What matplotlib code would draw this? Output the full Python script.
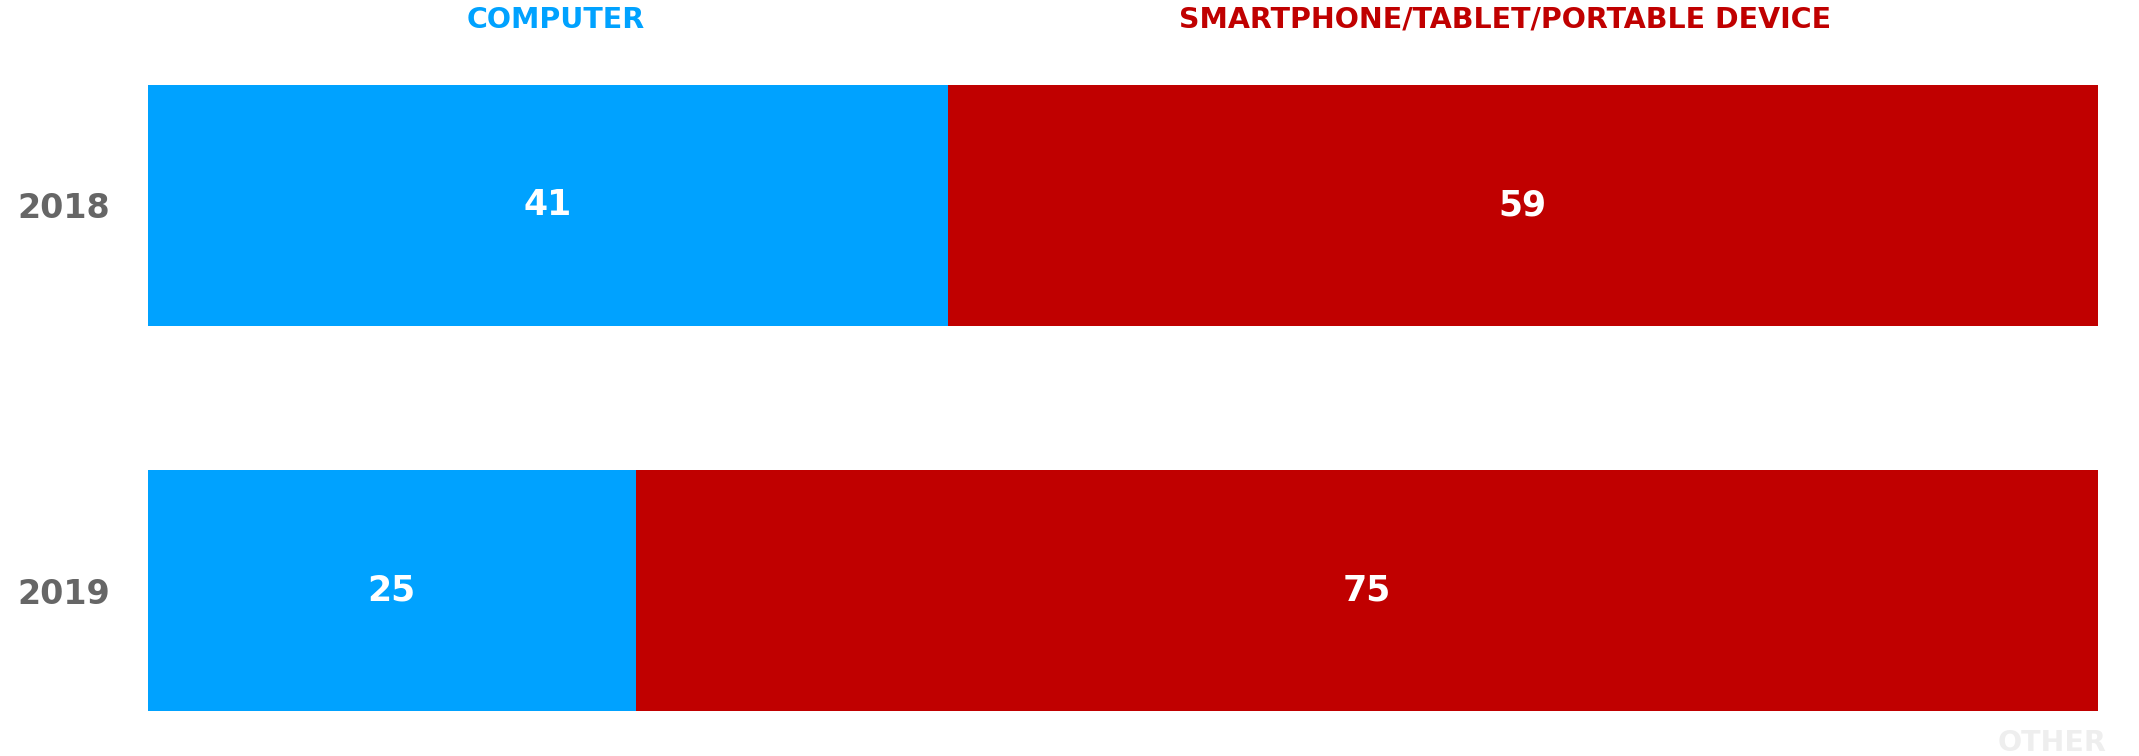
import matplotlib
matplotlib.use("Agg")
import matplotlib.pyplot as plt
import matplotlib.transforms as mtransforms

years = ["2018", "2019"]
categories = ["COMPUTER", "SMARTPHONE/TABLET/PORTABLE DEVICE", "OTHER"]
computer = [41, 25]
smartphone = [59, 75]
other = [0, 0]
colors = ["#00A2FF", "#C00000", "#EEEEEE"]

plt.rcParams["font.family"] = ["DejaVu Sans"]

fig = plt.figure(figsize=(21.39, 7.56), dpi=100)
ax = fig.add_axes([148 / 2139, 1 - 711 / 756, (2098 - 148) / 2139, (711 - 85) / 756])

series = [computer, smartphone, other]
ypos = list(range(len(years)))
left = [0] * len(years)
for vals, col in zip(series, colors):
    ax.barh(ypos, vals, left=left, height=0.625, color=col, edgecolor="none")
    for y, v, l in zip(ypos, vals, left):
        if v > 0:
            ax.text(l + v / 2, y, str(v), ha="center", va="center",
                    color="white", fontsize=25, fontweight="bold")
    left = [a + b for a, b in zip(left, vals)]

ax.set_xlim(0, 100)
ax.set_ylim(len(years) - 1 + 0.3125, -0.3125)
ax.set_yticks(ypos)
ax.set_yticklabels(years, fontsize=24, color="#666666", fontweight="bold")
ax.tick_params(axis="y", length=0, pad=27)
ax.set_xticks([])
for s in ax.spines.values():
    s.set_visible(False)

# category headers above the first row's segments
trans = mtransforms.blended_transform_factory(ax.transData, fig.transFigure)
ax.text(20.9, 1 - 20 / 756, categories[0], transform=trans, ha="center", va="center",
        color=colors[0], fontsize=20.5, fontweight="bold")
ax.text(69.6, 1 - 20 / 756, categories[1], transform=trans, ha="center", va="center",
        color=colors[1], fontsize=20.5, fontweight="bold")
fig.text(2052 / 2139, 1 - 743 / 756, categories[2], ha="center", va="center",
         color="#EEEEEE", fontsize=20.5, fontweight="bold")

fig.savefig("out.png", dpi=100, facecolor="white")
